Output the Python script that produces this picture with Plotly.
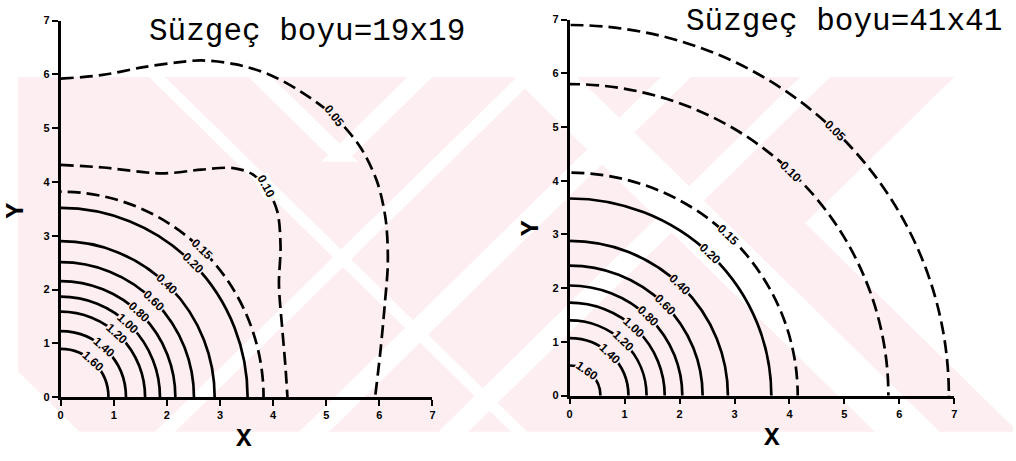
import numpy as np
import plotly.graph_objects as go

W, H = 1016, 461

# contour levels and the radius at which each (nearly circular) level crosses the axes
levels_19 = ["1.60", "1.40", "1.20", "1.00", "0.80", "0.60", "0.40", "0.20", "0.15"]
radius_19 = [0.90, 1.23, 1.59, 1.87, 2.16, 2.51, 2.90, 3.52, 3.82]

levels_41 = ["1.60", "1.40", "1.20", "1.00", "0.80", "0.60", "0.40", "0.20", "0.15", "0.10", "0.05"]
radius_41 = [0.56, 1.07, 1.40, 1.73, 2.05, 2.42, 2.88, 3.67, 4.15, 5.80, 6.90]

# the two outer contours of the 19x19 filter are not circular
x_010 = [0, 0.8, 1.9, 2.65, 3.25, 3.6, 3.88, 4.08, 4.14, 4.11, 4.17, 4.23, 4.27]
y_010 = [4.32, 4.27, 4.16, 4.23, 4.26, 4.15, 3.88, 3.45, 2.8, 2.1, 1.3, 0.6, 0]
x_005 = [0, 0.79, 1.53, 2.16, 2.65, 3.28, 3.90, 4.52, 5.15, 5.64, 5.96, 6.12, 6.16, 6.10, 6.02, 5.92]
y_005 = [5.92, 5.99, 6.13, 6.22, 6.26, 6.19, 6.01, 5.68, 5.22, 4.65, 4.0, 3.3, 2.5, 1.7, 0.85, 0]

axis_ticks = [0, 1, 2, 3, 4, 5, 6, 7]

# polar angle (deg) where each circular contour carries its label
label_phi_19 = [48, 49, 48, 47, 47, 45.5, 46.5, 45, 46]
label_phi_41 = [55, 46.5, 46, 47, 46, 44, 45.7, 45.8, 46, 46, 45.5]

DASH = "13px,6px"
LW = 2.7
PINK = "rgb(253,238,241)"

# page layout in pixels
LEFT_BOX = dict(x0=58, x1=432, y0=401.7, y1=15)
RIGHT_BOX = dict(x0=570, x1=957, y0=400, y1=14)

# background stamp: a pink band broken by thin diagonal white gaps
BAND = (15, 73, 1016, 437)                         # x0, y0, x1, y1
DIFF_GAPS = [(74, 90), (440, 505)]                 # bands of (x - y)
SUM_GAPS = [(590, 610), (735, 765), (875, 905)]    # bands of (x + y)
V_GAPS = dict(diff=(174, 197), sum=(480, 505), ymax=160)
WEDGE = dict(sum=1030, diff=584)                   # white notch at the right edge
CORNER_DIFF = -360                                 # white corner at bottom-left


def px(x):
    return x / W


def py(y):
    return 1 - y / H


def poly(points, color):
    d = "M " + " L ".join(f"{px(a):.5f},{py(b):.5f}" for a, b in points) + " Z"
    return dict(type="path", xref="paper", yref="paper", path=d,
                fillcolor=color, line=dict(width=0), layer="below")


def is_pink(X, Y):
    bx0, by0, bx1, by1 = BAND
    if not (bx0 <= X <= bx1 and by0 <= Y <= by1):
        return False
    if X - Y < CORNER_DIFF:
        return False
    if X + Y > WEDGE["sum"] and X - Y > WEDGE["diff"]:
        return False
    if any(a <= X - Y <= b for a, b in DIFF_GAPS):
        return False
    if any(a <= X + Y <= b for a, b in SUM_GAPS):
        return False
    if Y < V_GAPS["ymax"] and (V_GAPS["diff"][0] <= X - Y <= V_GAPS["diff"][1]
                               or V_GAPS["sum"][0] <= X + Y <= V_GAPS["sum"][1]):
        return False
    return True


shapes = []
bx0, by0, bx1, by1 = BAND
shapes.append(poly([(bx0, by0), (bx1, by0), (bx1, by1), (bx0, by1)], PINK))
for a, b in DIFF_GAPS:
    shapes.append(poly([(a + by0, by0), (b + by0, by0), (b + by1, by1), (a + by1, by1)], "white"))
for a, b in SUM_GAPS:
    shapes.append(poly([(a - by0, by0), (b - by0, by0), (b - by1, by1), (a - by1, by1)], "white"))
ym = V_GAPS["ymax"]
a, b = V_GAPS["diff"]
shapes.append(poly([(a + by0, by0), (b + by0, by0), (b + ym, ym), (a + ym, ym)], "white"))
a, b = V_GAPS["sum"]
shapes.append(poly([(a - by0, by0), (b - by0, by0), (b - ym, ym), (a - ym, ym)], "white"))
apx = (WEDGE["sum"] + WEDGE["diff"]) / 2
apy = (WEDGE["sum"] - WEDGE["diff"]) / 2
shapes.append(poly([(WEDGE["sum"] - by0, by0), (bx1 + 5, by0),
                    (bx1 + 5, bx1 + 5 - WEDGE["diff"]), (apx, apy)], "white"))
shapes.append(poly([(bx0, bx0 - CORNER_DIFF), (bx0, by1), (by1 + CORNER_DIFF, by1)], "white"))


def to_pixels(x, y, box):
    return (box["x0"] + x * (box["x1"] - box["x0"]) / 7,
            box["y0"] + y * (box["y1"] - box["y0"]) / 7)


annotations = []
LABEL_FONT = dict(family="Liberation Sans", size=12, color="black", weight="bold")


def label(x, y, xref, yref, box, text, angle):
    X, Y = to_pixels(x, y, box)
    return dict(x=x, y=y, xref=xref, yref=yref, text=text, showarrow=False,
                textangle=angle, font=LABEL_FONT, borderpad=0,
                bgcolor=PINK if is_pink(X, Y) else "white",
                xanchor="center", yanchor="middle")


def add_circles(levels, radii, phis, xref, yref, box):
    for lev, r, phi in zip(levels, radii, phis):
        dashed = float(lev) <= 0.15
        shapes.append(dict(
            type="circle", xref=xref, yref=yref, x0=-r, x1=r, y0=-r, y1=r,
            line=dict(color="black", width=LW, dash=DASH if dashed else "solid"),
            layer="above"))
        t = np.radians(phi)
        annotations.append(label(r * np.cos(t), r * np.sin(t), xref, yref, box, lev, 90 - phi))


add_circles(levels_19, radius_19, label_phi_19, "x", "y", LEFT_BOX)
add_circles(levels_41, radius_41, label_phi_41, "x2", "y2", RIGHT_BOX)

fig = go.Figure()
for xs, ys in ((x_010, y_010), (x_005, y_005)):
    fig.add_trace(go.Scatter(
        x=xs, y=ys, mode="lines", xaxis="x", yaxis="y", hoverinfo="skip",
        line=dict(color="black", width=LW, dash=DASH, shape="spline", smoothing=0.9)))

annotations.append(label(3.86, 3.92, "x", "y", LEFT_BOX, "0.10", 62))
annotations.append(label(5.15, 5.22, "x", "y", LEFT_BOX, "0.05", 52))


def paper_text(x, y, text, font, angle=0):
    return dict(x=px(x), y=py(y), xref="paper", yref="paper", text=text, showarrow=False,
                font=font, textangle=angle, xanchor="center", yanchor="middle")


# titles and axis names
TITLE_FONT = dict(family="Liberation Mono", size=31, color="black")
AX_FONT = dict(family="Liberation Mono", size=26, color="black", weight="bold")
annotations += [
    paper_text(306, 26, "Süzgeç boyu=19x19", TITLE_FONT),
    paper_text(846, 16, "Süzgeç boyu=41x41", TITLE_FONT),
    paper_text(242, 445, "X", AX_FONT),
    paper_text(774, 444, "X", AX_FONT),
    paper_text(13, 210, "Y", AX_FONT, -90),
    paper_text(531, 228, "Y", AX_FONT, -90),
]

axis_style = dict(
    range=[0, 7], tickmode="array", tickvals=axis_ticks, ticktext=[str(t) for t in axis_ticks],
    showline=True, linecolor="black", linewidth=2.5, ticks="outside", ticklen=6,
    tickwidth=2, tickcolor="black", showgrid=False, zeroline=False,
    tickfont=dict(family="Liberation Sans", size=11, color="black", weight="bold"),
    fixedrange=True)

fig.update_layout(
    width=W, height=H, margin=dict(l=0, r=0, t=0, b=0),
    paper_bgcolor="white", plot_bgcolor="rgba(0,0,0,0)", showlegend=False,
    xaxis=dict(axis_style, domain=[px(LEFT_BOX["x0"]), px(LEFT_BOX["x1"])], anchor="y"),
    yaxis=dict(axis_style, domain=[py(LEFT_BOX["y0"]), py(LEFT_BOX["y1"])], anchor="x"),
    xaxis2=dict(axis_style, domain=[px(RIGHT_BOX["x0"]), px(RIGHT_BOX["x1"])], anchor="y2"),
    yaxis2=dict(axis_style, domain=[py(RIGHT_BOX["y0"]), py(RIGHT_BOX["y1"])], anchor="x2"),
    shapes=shapes, annotations=annotations)

fig.write_html("out.html")
